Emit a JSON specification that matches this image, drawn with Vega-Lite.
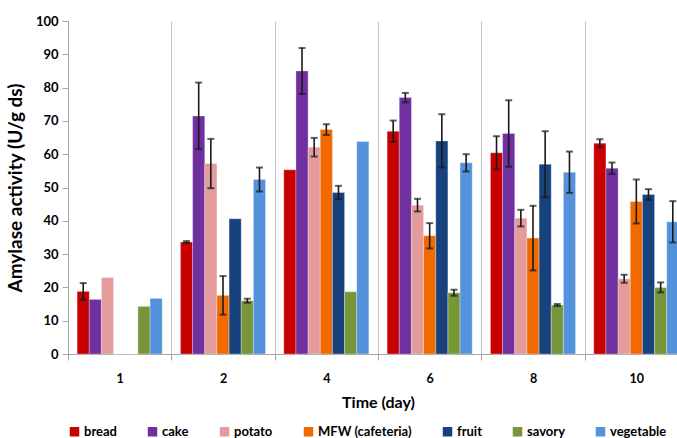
{
  "$schema": "https://vega.github.io/schema/vega-lite/v6.json",
  "autosize": {"type": "none"},
  "padding": {"left": 68, "top": 21, "right": 0, "bottom": 84},
  "width": 620,
  "height": 333,
  "background": "white",
  "config": {
    "view": {"stroke": null},
    "font": "Lato",
    "axis": {"labelFont": "Lato", "titleFont": "Lato", "labelFontWeight": "bold", "titleFontWeight": "bold", "labelColor": "#000000", "titleColor": "#000000"},
    "legend": {"labelFont": "Lato", "labelFontWeight": "bold"}
  },
  "data": {"values": [
    {"day": 1, "food": "bread", "value": 18.8, "err": 2.5},
    {"day": 1, "food": "cake", "value": 16.4, "err": null},
    {"day": 1, "food": "potato", "value": 23.0, "err": null},
    {"day": 1, "food": "MFW (cafeteria)", "value": 0, "err": null},
    {"day": 1, "food": "fruit", "value": 0, "err": null},
    {"day": 1, "food": "savory", "value": 14.3, "err": null},
    {"day": 1, "food": "vegetable", "value": 16.7, "err": null},
    {"day": 2, "food": "bread", "value": 33.6, "err": 0.3},
    {"day": 2, "food": "cake", "value": 71.5, "err": 10.0},
    {"day": 2, "food": "potato", "value": 57.2, "err": 7.4},
    {"day": 2, "food": "MFW (cafeteria)", "value": 17.6, "err": 5.8},
    {"day": 2, "food": "fruit", "value": 40.6, "err": null},
    {"day": 2, "food": "savory", "value": 16.0, "err": 0.6},
    {"day": 2, "food": "vegetable", "value": 52.4, "err": 3.6},
    {"day": 4, "food": "bread", "value": 55.3, "err": null},
    {"day": 4, "food": "cake", "value": 85.0, "err": 6.9},
    {"day": 4, "food": "potato", "value": 62.1, "err": 2.8},
    {"day": 4, "food": "MFW (cafeteria)", "value": 67.4, "err": 1.6},
    {"day": 4, "food": "fruit", "value": 48.5, "err": 2.0},
    {"day": 4, "food": "savory", "value": 18.7, "err": null},
    {"day": 4, "food": "vegetable", "value": 63.8, "err": null},
    {"day": 6, "food": "bread", "value": 66.9, "err": 3.2},
    {"day": 6, "food": "cake", "value": 77.0, "err": 1.4},
    {"day": 6, "food": "potato", "value": 44.7, "err": 1.9},
    {"day": 6, "food": "MFW (cafeteria)", "value": 35.5, "err": 3.8},
    {"day": 6, "food": "fruit", "value": 64.0, "err": 8.0},
    {"day": 6, "food": "savory", "value": 18.4, "err": 0.9},
    {"day": 6, "food": "vegetable", "value": 57.4, "err": 2.6},
    {"day": 8, "food": "bread", "value": 60.4, "err": 5.0},
    {"day": 8, "food": "cake", "value": 66.2, "err": 10.0},
    {"day": 8, "food": "potato", "value": 40.8, "err": 2.5},
    {"day": 8, "food": "MFW (cafeteria)", "value": 34.8, "err": 9.7},
    {"day": 8, "food": "fruit", "value": 57.0, "err": 9.9},
    {"day": 8, "food": "savory", "value": 14.7, "err": 0.3},
    {"day": 8, "food": "vegetable", "value": 54.6, "err": 6.2},
    {"day": 10, "food": "bread", "value": 63.3, "err": 1.2},
    {"day": 10, "food": "cake", "value": 55.8, "err": 1.7},
    {"day": 10, "food": "potato", "value": 22.6, "err": 1.2},
    {"day": 10, "food": "MFW (cafeteria)", "value": 45.8, "err": 6.6},
    {"day": 10, "food": "fruit", "value": 47.9, "err": 1.6},
    {"day": 10, "food": "savory", "value": 20.0, "err": 1.5},
    {"day": 10, "food": "vegetable", "value": 39.7, "err": 6.2}
  ]},
  "encoding": {
    "x": {
      "field": "day", "type": "ordinal",
      "scale": {"paddingInner": 0, "paddingOuter": 0},
      "axis": {
        "title": "Time (day)", "titleFontSize": 16, "titlePadding": 10,
        "labelAngle": 0, "labelFontSize": 12.5, "labelPadding": 12,
        "tickBand": "extent", "grid": true, "gridColor": "#c4c4c4", "gridWidth": 1,
        "domainColor": "#a6a6a6", "tickColor": "#a6a6a6", "tickSize": 6
      }
    },
    "xOffset": {
      "field": "food", "type": "nominal",
      "sort": ["bread", "cake", "potato", "MFW (cafeteria)", "fruit", "savory", "vegetable"],
      "scale": {"paddingInner": 0, "paddingOuter": 0.75}
    },
    "y": {
      "field": "value", "type": "quantitative",
      "scale": {"domain": [0, 100], "nice": false},
      "axis": {
        "title": "Amylase activity (U/g ds)", "titleFontSize": 19, "titlePadding": 10,
        "values": [0, 10, 20, 30, 40, 50, 60, 70, 80, 90, 100],
        "labelOverlap": false,
        "labelFontSize": 13, "labelPadding": 4, "grid": false,
        "domainColor": "#a6a6a6", "tickColor": "#a6a6a6", "tickSize": 6
      }
    }
  },
  "layer": [
    {
      "mark": {"type": "bar", "stroke": "white", "strokeWidth": 0.6, "strokeOpacity": 0.5},
      "encoding": {
        "color": {
          "field": "food", "type": "nominal",
          "sort": ["bread", "cake", "potato", "MFW (cafeteria)", "fruit", "savory", "vegetable"],
          "scale": {
            "domain": ["bread", "cake", "potato", "MFW (cafeteria)", "fruit", "savory", "vegetable"],
            "range": ["#c80000", "#7030a0", "#e49b9b", "#f06a00", "#17427e", "#77963a", "#5492dc"]
          },
          "legend": {
            "title": null, "orient": "bottom", "direction": "horizontal",
            "symbolType": "square", "symbolSize": 90, "symbolStrokeWidth": 0,
            "labelFontSize": 13, "columnPadding": 29, "labelOffset": 3, "offset": 14
          }
        }
      }
    },
    {
      "transform": [{"filter": "datum.err != null"}],
      "mark": {
        "type": "errorbar",
        "ticks": {"size": 7, "thickness": 2, "color": "#1a1a1a"},
        "rule": {"strokeWidth": 1.6, "color": "#1a1a1a"}
      },
      "encoding": {
        "yError": {"field": "err"}
      }
    }
  ]
}
